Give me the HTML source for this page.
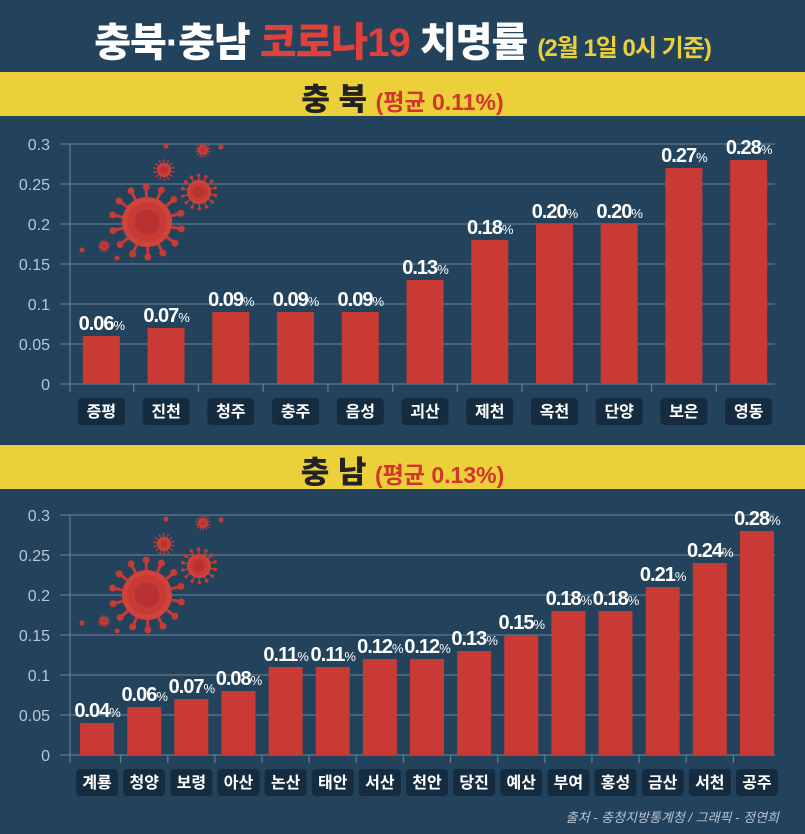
<!DOCTYPE html>
<html><head><meta charset="utf-8"><style>
*{margin:0;padding:0}
body{width:805px;height:834px;background:#23435d;overflow:hidden;position:relative;font-family:"Liberation Sans","Noto Sans CJK KR",sans-serif}
.t{position:absolute;white-space:nowrap}
</style></head><body>
<div class="t" style="left:0;width:805px;top:10px;text-align:center;font-size:40px;font-weight:900;color:#fff;letter-spacing:-1px">충북·충남 <span style="color:#e2403a">코로나19</span> 치명률 <span style="font-size:24px;color:#ecd03a;font-weight:700">(2월 1일 0시 기준)</span></div>
<div style="position:absolute;left:0;top:72px;width:805px;height:44px;background:#ecd03a"></div>
<div class="t" style="left:0;width:805px;top:74px;text-align:center;font-size:31px;font-weight:900;color:#222">충 북 <span style="font-size:23px;color:#d3342e;font-weight:700">(평균 0.11%)</span></div>
<div style="position:absolute;left:0;top:445px;width:805px;height:44px;background:#ecd03a"></div>
<div class="t" style="left:0;width:805px;top:447px;text-align:center;font-size:31px;font-weight:900;color:#222">충 남 <span style="font-size:23px;color:#d3342e;font-weight:700">(평균 0.13%)</span></div>
<div class="t" style="right:26px;top:807px;font-size:13px;font-style:italic;color:#b7c4d0">출처 - 충청지방통계청 / 그래픽 - 정연희</div>
<svg id="s" width="805" height="834" style="position:absolute;left:0;top:0"></svg>
<script>
const s=document.getElementById('s');let h='';
function virus(cx,cy,r){let o='';for(let i=0;i<14;i++){const a=i/14*Math.PI*2+0.2;const x1=cx+Math.cos(a)*r,y1=cy+Math.sin(a)*r,x2=cx+Math.cos(a)*r*1.4,y2=cy+Math.sin(a)*r*1.4;o+=`<line x1="${x1}" y1="${y1}" x2="${x2}" y2="${y2}" stroke="#c93a35" stroke-width="${Math.max(1,r*0.12)}"/><circle cx="${x2}" cy="${y2}" r="${r*0.14}" fill="#c93a35"/>`;}
o+=`<circle cx="${cx}" cy="${cy}" r="${r}" fill="#d0433a"/><circle cx="${cx}" cy="${cy}" r="${r*0.8}" fill="#c83a34"/><circle cx="${cx}" cy="${cy}" r="${r*0.5}" fill="#b93232"/>`;return o;}
function chart(top,vals,names,bw,L,R){const zero=top+240,n=vals.length,sp=(R-L)/n;
for(let k=0;k<=6;k++){const y=zero-k*40;h+=`<line x1="60" y1="${y}" x2="775" y2="${y}" stroke="#5f7a90" stroke-width="1.3"/><text x="50" y="${y+6}" text-anchor="end" font-size="16" fill="#b9c6d2">${k==0?'0':(k*0.05).toFixed(2).replace(/0$/,'')}</text>`;}
h+=`<line x1="70" y1="${top}" x2="70" y2="${zero+8}" stroke="#5f7a90" stroke-width="1.3"/>`;
if(top<200){h+=virus(147,222,25)+virus(199,192,12)+virus(164,170,7)+virus(203,150,5)+virus(104,246,4);}else{h+=virus(147,595,25)+virus(199,566,12)+virus(164,544,7)+virus(203,523,5)+virus(104,621,4);}
const d=top<200?0:373;[[166,146],[221,147],[82,250],[117,258]].forEach(p=>h+=`<circle cx="${p[0]}" cy="${p[1]+d}" r="2.5" fill="#c93a35"/>`);
for(let i=0;i<n;i++){const cx=L+sp*(i+.5),v=vals[i],y=zero-v*800;
if(i<n-1)h+=`<line x1="${L+sp*(i+1)}" y1="${zero}" x2="${L+sp*(i+1)}" y2="${zero+8}" stroke="#5f7a90" stroke-width="1.3"/>`;
h+=`<rect x="${cx-bw/2}" y="${y}" width="${bw}" height="${zero-y}" fill="#c93a35"/>`;
h+=`<text x="${cx}" y="${y-6}" text-anchor="middle" font-size="20" font-weight="bold" fill="#fff" letter-spacing="-1">${v.toFixed(2)}<tspan font-size="13" font-weight="normal">%</tspan></text>`;
const lw=n>12?42:47;h+=`<rect x="${cx-lw/2}" y="${zero+14}" width="${lw}" height="27" rx="4" fill="#152c40"/><text x="${cx}" y="${zero+33}" text-anchor="middle" font-size="16" font-weight="bold" fill="#fff">${names[i]}</text>`;}}
chart(144,[.06,.07,.09,.09,.09,.13,.18,.20,.20,.27,.28],['증평','진천','청주','충주','음성','괴산','제천','옥천','단양','보은','영동'],37,69,781);
chart(515,[.04,.06,.07,.08,.11,.11,.12,.12,.13,.15,.18,.18,.21,.24,.28],['계룡','청양','보령','아산','논산','태안','서산','천안','당진','예산','부여','홍성','금산','서천','공주'],34,73.5,780.5);
s.innerHTML=h;
</script>
</body></html>
